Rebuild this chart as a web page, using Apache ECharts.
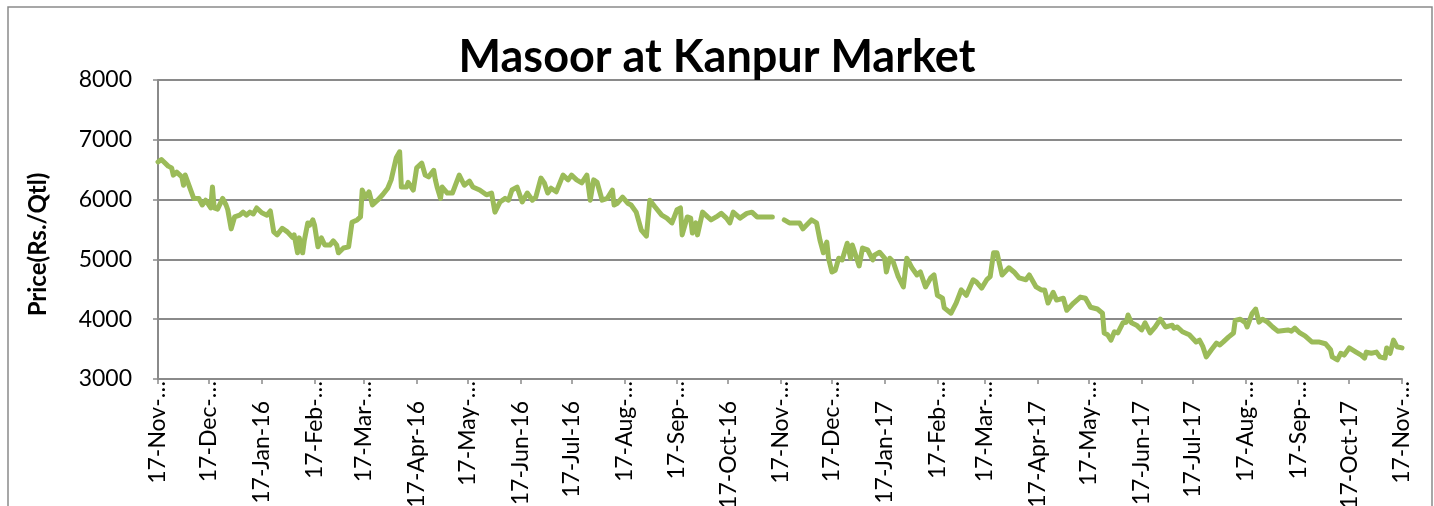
<!DOCTYPE html>
<html>
<head>
<meta charset="utf-8">
<script src="https://cdn.jsdelivr.net/npm/echarts@6/dist/echarts.min.js"></script>
<style>
  html, body { margin: 0; padding: 0; background: #fff; }
  #chart { width: 1434px; height: 506px; }
</style>
</head>
<body>
<div id="chart"></div>
<script>
// labels shown under the monthly ticks (17th of each month)
const tickLabels = [
  '17-Nov-…', '17-Dec-…', '17-Jan-16', '17-Feb-…', '17-Mar-…', '17-Apr-16',
  '17-May-…', '17-Jun-16', '17-Jul-16', '17-Aug-…', '17-Sep-…', '17-Oct-16',
  '17-Nov-…', '17-Dec-…', '17-Jan-17', '17-Feb-…', '17-Mar-…', '17-Apr-17',
  '17-May-…', '17-Jun-17', '17-Jul-17', '17-Aug-…', '17-Sep-…', '17-Oct-17',
  '17-Nov-…'
];

// days counted from 17-Nov-15
const sampleDay = [
  0, 2, 6, 8, 9, 11, 14, 15, 16, 17, 21, 24, 26, 28, 31, 32, 33, 35, 38, 40,
  41, 43, 45, 48, 50, 52, 54, 56, 58, 61, 64, 66, 68, 70, 73, 76, 79, 80, 82, 83,
  85, 86, 88, 89, 91, 92, 94, 96, 98, 101, 103, 105, 106, 109, 112, 114, 117, 119, 120, 122,
  124, 126, 129, 132, 135, 137, 140, 142, 143, 146, 147, 150, 152, 155, 157, 159, 162, 163, 164, 166,
  167, 170, 173, 177, 180, 183, 185, 189, 193, 196, 198, 201, 204, 206, 208, 211, 214, 217, 220, 222,
  225, 227, 229, 231, 234, 238, 241, 243, 246, 249, 252, 254, 256, 258, 261, 264, 267, 268, 270, 273,
  276, 278, 281, 284, 287, 289, 292, 296, 299, 302, 305, 307, 308, 311, 313, 314, 316, 317, 320, 323,
  325, 328, 331, 334, 336, 338, 340, 342, 346, 349, 352, 361, 364, 368, 371, 377, 379, 381, 384, 387,
  389, 391, 393, 394, 396, 398, 400, 402, 405, 407, 408, 410, 412, 414, 417, 420, 421, 424, 427, 428,
  430, 432, 435, 438, 440, 443, 446, 448, 451, 454, 456, 458, 461, 462, 466, 469, 472, 475, 479, 481,
  484, 487, 489, 491, 493, 496, 500, 503, 506, 510, 512, 516, 519, 521, 523, 526, 528, 532, 534, 538,
  542, 545, 548, 552, 555, 556, 558, 560, 562, 564, 567, 569, 570, 572, 575, 578, 580, 583, 586, 589,
  592, 596, 597, 599, 602, 606, 610, 612, 614, 616, 619, 622, 624, 626, 629, 632, 633, 636, 639, 640,
  643, 645, 646, 647, 649, 652, 655, 658, 664, 666, 668, 671, 674, 678, 682, 686, 689, 690, 693, 694,
  695, 697, 700, 704, 707, 709, 710, 713, 716, 718, 721, 722, 724, 726, 727, 728, 731
];

// price in Rs./Qtl (null = no quote)
const price = [
  6630, 6670, 6560, 6530, 6410, 6460, 6380, 6240, 6410, 6380, 6020, 6020, 5910, 5990, 5860, 6210, 5860, 5840, 6020, 5910,
  5830, 5510, 5710, 5740, 5790, 5740, 5790, 5760, 5860, 5780, 5740, 5810, 5460, 5410, 5520, 5460, 5370, 5410, 5110, 5360,
  5110, 5320, 5610, 5570, 5660, 5570, 5210, 5360, 5240, 5240, 5310, 5240, 5110, 5190, 5210, 5620, 5660, 5710, 6160, 6040,
  6130, 5910, 5990, 6080, 6190, 6330, 6700, 6800, 6210, 6210, 6290, 6160, 6530, 6610, 6410, 6380, 6490, 6330, 6210, 6020,
  6210, 6110, 6110, 6410, 6240, 6310, 6210, 6160, 6080, 6110, 5790, 5960, 6020, 5990, 6160, 6210, 5960, 6110, 5990, 6040,
  6360, 6280, 6110, 6190, 6130, 6410, 6330, 6410, 6330, 6280, 6410, 5990, 6330, 6290, 5990, 6020, 6160, 5910, 5940, 6040,
  5940, 5910, 5790, 5490, 5390, 5990, 5880, 5740, 5690, 5610, 5830, 5860, 5410, 5710, 5690, 5440, 5610, 5410, 5790, 5710,
  5660, 5710, 5770, 5690, 5610, 5790, 5740, 5690, 5770, 5790, 5710, 5710, null, 5660, 5610, 5610, 5510, 5570, 5660, 5610,
  5320, 5110, 5290, 5020, 4790, 4820, 5020, 4990, 5270, 5020, 5240, 5070, 4890, 5190, 5160, 4990, 5070, 5120, 5020, 4790,
  5020, 4960, 4710, 4540, 5020, 4860, 4740, 4790, 4540, 4690, 4740, 4400, 4350, 4190, 4100, 4270, 4490, 4400, 4660, 4620,
  4520, 4660, 4710, 5110, 5110, 4740, 4860, 4790, 4690, 4660, 4740, 4540, 4490, 4490, 4270, 4450, 4320, 4350, 4150, 4270,
  4370, 4350, 4200, 4170, 4100, 3770, 3740, 3650, 3790, 3770, 3940, 3950, 4070, 3940, 3900, 3820, 3940, 3770, 3870, 4000,
  3870, 3900, 3850, 3870, 3790, 3740, 3620, 3650, 3540, 3370, 3490, 3600, 3570, 3620, 3700, 3770, 3980, 4000, 3940, 3870,
  4100, 4170, 4150, 3950, 4000, 3950, 3870, 3800, 3820, 3800, 3850, 3770, 3720, 3620, 3620, 3590, 3490, 3370, 3320, 3330,
  3430, 3400, 3520, 3450, 3400, 3350, 3450, 3430, 3450, 3370, 3350, 3520, 3430, 3650, 3670, 3540, 3520
];

const yTicks = [3000, 4000, 5000, 6000, 7000, 8000];

// one category per day, 17-Nov-15 .. 17-Nov-17
const MONTHS = ['Jan','Feb','Mar','Apr','May','Jun','Jul','Aug','Sep','Oct','Nov','Dec'];
const days = [];
const tickAt = {};
let t = Date.UTC(2015, 10, 17);
const end = Date.UTC(2017, 10, 17);
for (let i = 0; t <= end; i++, t += 86400000) {
  const d = new Date(t);
  days.push(d.getUTCDate() + '-' + MONTHS[d.getUTCMonth()] + '-' + String(d.getUTCFullYear()).slice(2));
  if (d.getUTCDate() === 17) tickAt[i] = Object.keys(tickAt).length;
}
const isTick = (i) => tickAt[i] !== undefined;

const seriesData = sampleDay.map((d, i) => [d, price[i] == null ? '-' : price[i]]);

const chart = echarts.init(document.getElementById('chart'));
const font = 'Lato, "Open Sans", sans-serif';

chart.setOption({
  animation: false,
  title: {
    text: 'Masoor at Kanpur Market',
    left: 'center',
    top: 30,
    textStyle: { fontFamily: font, fontSize: 45, fontWeight: 'bold', color: '#000' }
  },
  graphic: [{
    type: 'rect',
    shape: { x: 8, y: 7, width: 1424, height: 520 },
    style: { fill: 'none', stroke: '#8a8a8a', lineWidth: 1.5 },
    silent: true
  }],
  grid: { left: 158, right: 32, top: 80, bottom: 127, outerBoundsMode: 'none', containLabel: false },
  xAxis: {
    type: 'category',
    data: days,
    boundaryGap: false,
    axisLine: { lineStyle: { color: '#8a8a8a', width: 2 } },
    axisTick: { interval: isTick, length: 5, lineStyle: { color: '#8a8a8a', width: 1.5 } },
    axisLabel: {
      interval: isTick,
      rotate: 90,
      margin: 2,
      color: '#000',
      fontFamily: font,
      fontSize: 23,
      formatter: (v, i) => {
        const s = tickLabels[tickAt[i]];
        return s.indexOf('…') >= 0 ? '{t|' + s + '}' : '{f|' + s + '}';
      },
      rich: {
        t: { fontFamily: font, fontSize: 23, color: '#000' },
        f: { fontFamily: font, fontSize: 23, color: '#000', padding: [0, 20, 0, 0] }
      }
    },
    splitLine: { show: false }
  },
  yAxis: {
    type: 'value',
    min: yTicks[0],
    max: yTicks[yTicks.length - 1],
    interval: 1000,
    name: 'Price(Rs./Qtl)',
    nameLocation: 'middle',
    nameGap: 108,
    nameMoveOverlap: false,
    nameTextStyle: { fontFamily: font, fontSize: 24, fontWeight: 'bold', color: '#000', padding: [0, 30, 0, 0] },
    axisLine: { show: true, lineStyle: { color: '#8a8a8a', width: 2 } },
    axisTick: { show: true, length: 5, lineStyle: { color: '#8a8a8a', width: 1.5 } },
    axisLabel: { margin: 26, color: '#000', fontFamily: font, fontSize: 23, formatter: (v) => String(v) },
    splitLine: { lineStyle: { color: '#8a8a8a', width: 2 } }
  },
  series: [{
    type: 'line',
    data: seriesData,
    showSymbol: false,
    connectNulls: false,
    lineStyle: { color: '#9bbb59', width: 5, join: 'round', cap: 'round' },
    itemStyle: { color: '#9bbb59' }
  }]
});
</script>
</body>
</html>
